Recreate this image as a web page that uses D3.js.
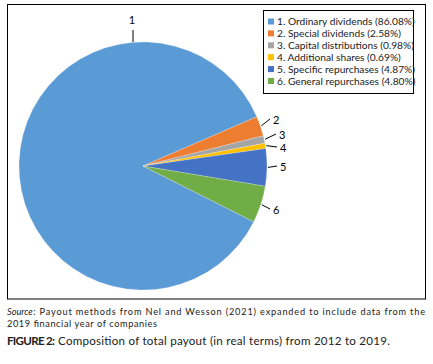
<!DOCTYPE html>
<html><head><meta charset="utf-8">
<script src="https://cdn.jsdelivr.net/npm/d3@7"></script>
<style>body{margin:0;background:#fff}</style>
</head><body>
<svg id="c" width="433" height="364"></svg>
<script>
const categories = ["1. Ordinary dividends","2. Special dividends","3. Capital distributions","4. Additional shares","5. Specific repurchases","6. General repurchases"];
const values = [86.08, 2.58, 0.98, 0.69, 4.87, 4.80];
const sliceLabels = ["1","2","3","4","5","6"];
const colors = ["#5B9BD5","#ED7D31","#A5A5A5","#FFC000","#4472C4","#70AD47"];

const svg = d3.select("#c");
const font = "Lato, 'Open Sans', sans-serif";
svg.append("rect").attr("x",7.5).attr("y",4.5).attr("width",418).attr("height",294.5)
  .attr("fill","none").attr("stroke","#000").attr("stroke-width",1);

const cx = 143, cy = 166, r = 124;
const start = 116.7*Math.PI/180;
const pie = d3.pie().sort(null).value(d=>d).startAngle(start).endAngle(start+2*Math.PI);
const arcs = pie(values);
const arc = d3.arc().innerRadius(0).outerRadius(r);
const g = svg.append("g").attr("transform",`translate(${cx},${cy})`);
g.selectAll("path").data(arcs).join("path").attr("d",arc)
  .attr("fill",(d,i)=>colors[i]).attr("stroke","#fff").attr("stroke-width",0.35).attr("stroke-opacity",0.6);

arcs.forEach((d,i)=>{
  let mid = (d.startAngle+d.endAngle)/2;
  const p = (rad)=>[Math.sin(mid)*rad, -Math.cos(mid)*rad];
  if(i===0){
    const x = 133-cx;
    g.append("line").attr("x1",x).attr("y1",30-cy).attr("x2",x).attr("y2",42-cy).attr("stroke","#000").attr("stroke-width",1);
    g.append("text").attr("x",x-1).attr("y",24-cy).attr("text-anchor","middle").attr("font-family",font).attr("font-size",11).text(sliceLabels[i]);
  } else {
    const ends = {1:[130,-46],2:[136,-31],3:[137,-18],4:[137,1],5:[130,44]};
    const e = ends[i];
    const a0 = p(r+1);
    g.append("line").attr("x1",a0[0]).attr("y1",a0[1]).attr("x2",e[0]-3).attr("y2",e[1]-1).attr("stroke","#000").attr("stroke-width",1);
    g.append("text").attr("x",e[0]).attr("y",e[1]+3.5).attr("font-family",font).attr("font-size",11).text(sliceLabels[i]);
  }
});

// legend
const lg = svg.append("g");
lg.append("rect").attr("x",263.5).attr("y",10.5).attr("width",150).attr("height",83).attr("fill","#fff").attr("stroke","#000").attr("stroke-width",1);
categories.forEach((c,i)=>{
  const y = 22 + i*11.9;
  lg.append("rect").attr("x",268).attr("y",y-3.5).attr("width",6).attr("height",6).attr("fill",colors[i]);
  lg.append("text").attr("x",277).attr("y",y+3.2).attr("font-family",font).attr("font-size",10.2).attr("fill","#222")
    .text(`${c} (${values[i].toFixed(2)}%)`);
});

// caption
const cap = svg.append("g").attr("font-family","Lato, 'Open Sans', sans-serif").attr("fill","#222");
const s1 = cap.append("text").attr("x",7).attr("y",315).attr("font-size",9.2).attr("font-style","italic").text("Source");
const w1 = s1.node().getComputedTextLength();
cap.append("text").attr("x",7+w1+0.5).attr("y",315).attr("font-size",9.2)
  .attr("textLength",425-(7+w1+0.5)).attr("lengthAdjust","spacing")
  .text(": Payout methods from Nel and Wesson (2021) expanded to include data from the");
cap.append("text").attr("x",7).attr("y",326.5).attr("font-size",9.2).attr("textLength",150).attr("lengthAdjust","spacing").text("2019 financial year of companies");
const f1 = cap.append("text").attr("x",7).attr("y",345).attr("font-size",11.6).attr("font-weight","bold").attr("textLength",48).attr("lengthAdjust","spacing").text("FIGURE 2:");
cap.append("text").attr("x",58).attr("y",345).attr("font-size",11.6)
  .attr("textLength",332).attr("lengthAdjust","spacing")
  .text("Composition of total payout (in real terms) from 2012 to 2019.");
</script>
</body></html>
